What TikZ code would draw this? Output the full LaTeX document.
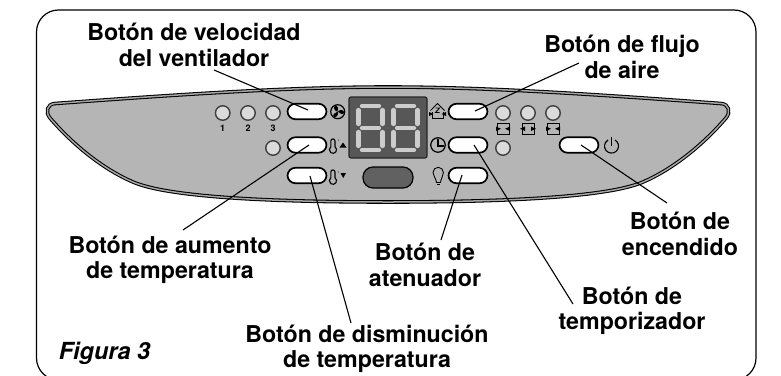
\documentclass[tikz,border=0pt]{standalone}
\usepackage{fontspec}
\setmainfont{TeX Gyre Heros}
\newfontfamily\figfont{TeX Gyre Heros}[UprightFont=*,BoldFont=*,ItalicFont={* Bold Italic},BoldItalicFont={* Bold Italic}]
\definecolor{panelgray}{gray}{0.71}
\tikzset{
  lbl/.style={font=\fontsize{23.2}{25.5}\selectfont\bfseries,align=center,text=black,inner sep=0pt},
  btn/.style={draw=black,line width=1.7pt,fill=white,rounded corners=8pt,minimum width=39pt,minimum height=15.5pt,inner sep=0pt},
  led/.style={circle,draw=black!75,line width=1.4pt,fill=black!14,minimum size=14.5pt,inner sep=0pt},
  lead/.style={draw=black,line width=1.1pt},
  ic/.style={draw=black,line width=1.1pt},
  num/.style={font=\fontsize{9}{9}\selectfont\bfseries,inner sep=0pt},
  seg/.style={line width=4.2pt,draw=black!20,line cap=round}
}
\begin{document}
\begin{tikzpicture}[x=1pt,y=-1pt]
\useasboundingbox (0,0) rectangle (781,375);
\begin{scope}
\clip (0,0) rectangle (781,375);
\draw[line width=1.2pt,rounded corners=22pt] (36.5,10) rectangle (756,380);
\end{scope}
\def\panel{(55,103.5) .. controls (160,96) and (280,87) .. (388,87) .. controls (496,87) and (616,96) .. (721,103.5) .. controls (729,104) and (731,112) .. (726,118) .. controls (701,147) and (671,170) .. (643,182) .. controls (606,198) and (496,202) .. (388,202) .. controls (280,202) and (170,198) .. (133,182) .. controls (105,170) and (75,147) .. (50,118) .. controls (45,112) and (47,104) .. (55,103.5) -- cycle}
\fill[panelgray] \panel;
\draw[line width=3.6pt,draw=black] \panel;
\draw[line width=1.5pt,draw=black!35] \panel;
% display
\draw[fill=black!66,draw=black!85,line width=1.2pt,rounded corners=2pt] (349,97) rectangle (427,158);
\foreach \dx in {0,35}{
 \begin{scope}[xshift=\dx pt]
  \draw[seg] (362,106) -- (379,106);
  \draw[seg] (362,128) -- (379,128);
  \draw[seg] (362,150) -- (379,150);
  \draw[seg] (358.5,110) -- (358.5,124);
  \draw[seg] (358.5,132) -- (358.5,146);
  \draw[seg] (382.5,110) -- (382.5,124);
  \draw[seg] (382.5,132) -- (382.5,146);
 \end{scope}}
\draw[fill=black!62,draw=black,line width=1.2pt,rounded corners=10pt] (363,167) rectangle (413,188);
% buttons
\node[btn] (bvent) at (307,111.5) {};
\node[btn] (bup) at (307,145) {};
\node[btn] (bdown) at (307,175.5) {};
\node[btn] (bflow) at (468,111.5) {};
\node[btn] (btimer) at (468,145) {};
\node[btn] (bdim) at (468,175.5) {};
\node[btn] (bpower) at (579,145) {};
% leds
\node[led] (l1) at (222.7,113) {};
\node[led] (l2) at (248,113) {};
\node[led] (l3) at (273,113) {};
\node[led] (l4) at (273,148) {};
\node[led] (l5) at (503,113) {};
\node[led] (l6) at (528,113) {};
\node[led] (l7) at (553,113) {};
\node[led] (l8) at (503,148) {};
\node[num] (n1) at (222.7,128.5) {1};
\node[num] (n2) at (248,128.5) {2};
\node[num] (n3) at (273,128.5) {3};
% mode icons
\foreach \x in {503,528,553}{
 \draw[line width=0.8pt] (\x-6,127) -- (\x-6,123.5) -- (\x+6,123.5) -- (\x+6,127);
 \draw[line width=0.8pt] (\x-6,130.5) -- (\x-6,134) -- (\x+6,134) -- (\x+6,130.5);
 \draw[line width=0.8pt] (\x-6,127) -- (\x-6,130.5) (\x+6,127) -- (\x+6,130.5);
}
\fill (496,126.5) -- (501,128.8) -- (496,131) -- cycle;
\fill (510,126.5) -- (505,128.8) -- (510,131) -- cycle;
\fill (520,128.8) -- (525,126.5) -- (525,131) -- cycle;
\fill (536,128.8) -- (531,126.5) -- (531,131) -- cycle;
\fill (546,126.5) -- (551,128.8) -- (546,131) -- cycle;
\fill (560,126.5) -- (555,128.8) -- (560,131) -- cycle;
% fan icon
\node[circle,draw=black,line width=1.2pt,minimum size=14pt,inner sep=0pt] (fan) at (337.7,111.7) {};
\foreach \a in {-20,100,220}{\fill[rotate around={\a:(337.7,111.7)}] (337.7,111.7) .. controls (339,108) and (343.5,108) .. (344,110.5) .. controls (344,113) and (340,113) .. (337.7,111.7) -- cycle;}
% thermometers
\draw[ic] (330.8,141) arc[start angle=180,end angle=360,radius=2.1] -- (335,146.8) arc[start angle=-55,end angle=235,radius=3.6] -- cycle;
\draw[ic] (330.8,172) arc[start angle=180,end angle=360,radius=2.1] -- (335,177.8) arc[start angle=-55,end angle=235,radius=3.6] -- cycle;
\fill (338.5,140) circle[radius=0.5];
\fill (338.5,172) circle[radius=0.5];
\fill (339.5,147.5) -- (346.5,147.5) -- (343,142.5) -- cycle;
\fill (340.5,173) -- (346,173) -- (343.2,178) -- cycle;
% house icon
\draw[line width=1pt] (430.5,110.5) -- (437.5,103.5) -- (444.5,110.5);
\draw[line width=0.9pt] (432,112) -- (432,118.5) -- (443,118.5) -- (443,112);
\draw[line width=0.9pt] (435.5,108) -- (439.5,108) -- (435.5,112.5) -- (439.5,112.5);
\fill (429,112) -- (433.5,114) -- (429,116) -- cycle;
\fill (446,112) -- (441.5,114) -- (446,116) -- cycle;
% clock
\node[circle,draw=black,line width=1.2pt,minimum size=14.5pt,inner sep=0pt] (clk) at (438,145) {};
\draw[ic] (438,139) -- (438,146) -- (444,146);
% bulb
\draw[line width=0.9pt] (436.5,182.5) .. controls (436,178) and (433,176) .. (433,172.5) arc[start angle=180,end angle=360,radius=5.2] .. controls (443.4,176) and (441,178) .. (440.5,182.5) -- cycle;
\draw[line width=0.9pt] (437,184.5) -- (440,184.5);
% power
\draw[ic] (615,140) arc[start angle=-60,end angle=240,radius=7];
\draw[ic] (611.5,136.5) -- (611.5,146);
% labels
\node[lbl] (tvent) at (194,45) {Botón de velocidad\\del ventilador};
\node[lbl] (tflow) at (622,57) {Botón de flujo\\de aire};
\node[lbl] (tup) at (170,260) {Botón de aumento\\de temperatura};
\node[lbl] (tdim) at (425,265) {Botón de\\atenuador};
\node[lbl] (tpower) at (680,234) {Botón de\\encendido};
\node[lbl] (ttimer) at (632,311) {Botón de\\temporizador};
\node[lbl] (tdown) at (367,349) {Botón de disminución\\de temperatura};
\node[font=\fontsize{23.5}{25}\figfont\itshape,inner sep=0pt] (tfig) at (104.5,353) {Figura 3};
% leaders
\coordinate (a1) at (308,110);
\coordinate (a2) at (214,70);
\draw[lead] (a2) -- (a1);
\coordinate (b1) at (309,145);
\coordinate (b2) at (183,230);
\draw[lead] (b1) -- (b2);
\coordinate (c1) at (310,176);
\coordinate (c2) at (351,323);
\draw[lead] (c1) -- (c2);
\coordinate (d1) at (475,111);
\coordinate (d2) at (579,63);
\draw[lead] (d1) -- (d2);
\coordinate (e1) at (474,145);
\coordinate (e2) at (573,304);
\draw[lead] (e1) -- (e2);
\coordinate (f1) at (462,175);
\coordinate (f2) at (441,240);
\draw[lead] (f1) -- (f2);
\coordinate (g1) at (581,145);
\coordinate (g2) at (667,203);
\draw[lead] (g1) -- (g2);
\end{tikzpicture}
\end{document}
